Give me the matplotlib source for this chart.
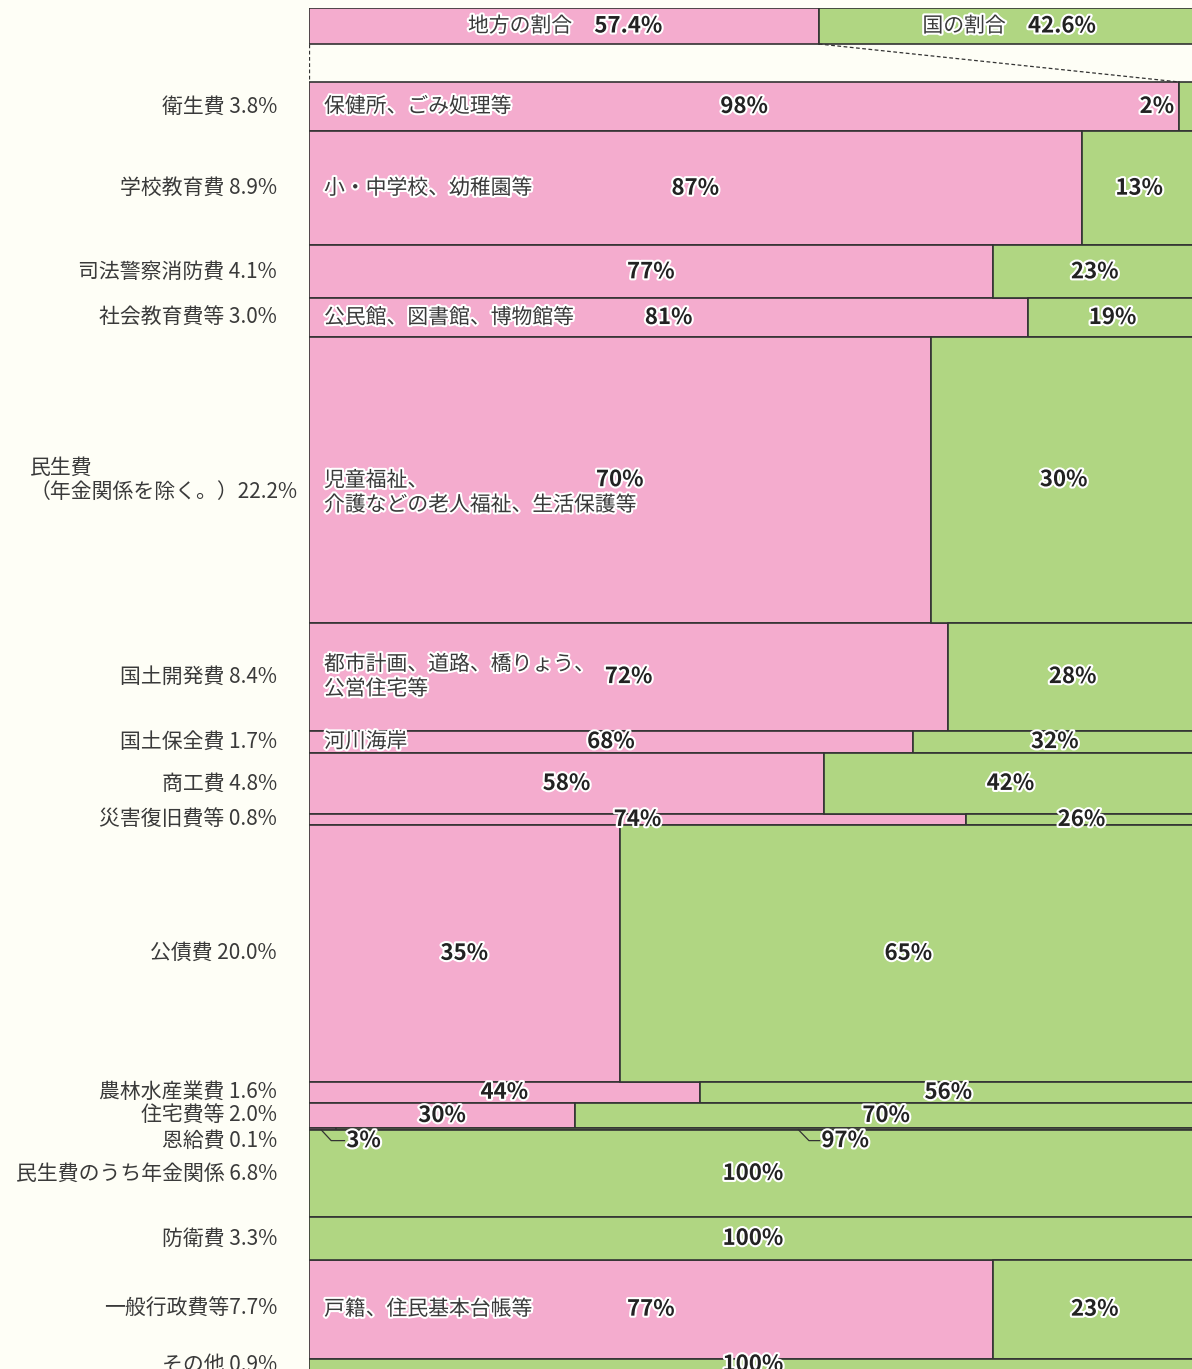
import numpy as np
import matplotlib
matplotlib.use('Agg')
import matplotlib.pyplot as plt
import matplotlib.patheffects as pe

plt.rcParams['font.family'] = ['Noto Sans CJK JP', 'DejaVu Sans']

# header: overall split local / national
header_labels = ['地方の割合', '国の割合']
header_values = [57.4, 42.6]

# rows (top to bottom)
row_labels = ['衛生費 3.8%', '学校教育費 8.9%', '司法警察消防費 4.1%', '社会教育費等 3.0%',
              '民生費\n（年金関係を除く。）22.2%', '国土開発費 8.4%', '国土保全費 1.7%', '商工費 4.8%',
              '災害復旧費等 0.8%', '公債費 20.0%', '農林水産業費 1.6%', '住宅費等 2.0%', '恩給費 0.1%',
              '民生費のうち年金関係 6.8%', '防衛費 3.3%', '一般行政費等7.7%', 'その他 0.9%']
shares = [3.8, 8.9, 4.1, 3.0, 22.2, 8.4, 1.7, 4.8, 0.8, 20.0, 1.6, 2.0, 0.1, 6.8, 3.3, 7.7, 0.9]
local_pct = [98, 87, 77, 81, 70, 72, 68, 58, 74, 35, 44, 30, 3, 0, 0, 77, 0]
national_pct = [100 - v for v in local_pct]
notes = ['保健所、ごみ処理等', '小・中学校、幼稚園等', '', '公民館、図書館、博物館等',
         '児童福祉、\n介護などの老人福祉、生活保護等', '都市計画、道路、橋りょう、\n公営住宅等',
         '河川海岸', '', '', '', '', '', '', '', '', '戸籍、住民基本台帳等', '']

PINK = '#f4acce'
GREEN = '#b0d682'
EDGE = '#333333'
BG = '#fefef6'
TXT = '#3a3a3a'
PY = 12.87  # pixels per percent (vertical)

fig = plt.figure(figsize=(11.92, 13.69), dpi=100, facecolor=BG)
# axes spans from x=309px to 1197px (right edge clipped), y from 8px downwards
top_pad = (82 - 8) / PY
ax_h = (100.1 + top_pad) * PY
ax = fig.add_axes([309 / 1192, (1369 - 8 - ax_h) / 1369, 888 / 1192, ax_h / 1369])
ax.set_xlim(0, 100)
ax.set_ylim(100.1, -top_pad)
ax.axis('off')

stroke = [pe.withStroke(linewidth=3, foreground='white')]

# header bar
hy0, hy1 = -top_pad, -(82 - 44) / PY
ax.barh(hy0, header_values[0], height=hy1 - hy0, left=0, align='edge',
        color=PINK, edgecolor=EDGE, linewidth=1.2)
ax.barh(hy0, header_values[1], height=hy1 - hy0, left=header_values[0], align='edge',
        color=GREEN, edgecolor=EDGE, linewidth=1.2)
hx = [header_values[0] / 2, header_values[0] + header_values[1] / 2]
for i in range(2):
    lab_w = len(header_labels[i]) * 20.8
    val_w = 65
    block = lab_w + 22 + val_w
    ax.annotate(header_labels[i], (hx[i], (hy0 + hy1) / 2), xytext=(-block / 2 + lab_w, 0),
                textcoords='offset pixels', ha='right', va='center', fontsize=15,
                color=TXT, path_effects=stroke)
    ax.annotate(f'{header_values[i]:.1f}%', (hx[i], (hy0 + hy1) / 2),
                xytext=(-block / 2 + lab_w + 22, 0), textcoords='offset pixels',
                ha='left', va='center', fontsize=16, fontweight='bold',
                color='#222222', path_effects=stroke)

# dashed connectors
ax.plot([0, 0], [hy1, 0], ls=(0, (3, 2)), color=EDGE, lw=0.9)
ax.plot([header_values[0], local_pct[0]], [hy1, 0], ls=(0, (3, 2)), color=EDGE, lw=0.9)

# rows
tops = np.concatenate([[0], np.cumsum(shares)[:-1]])
ax.barh(tops, local_pct, height=shares, left=0, align='edge',
        color=PINK, edgecolor=EDGE, linewidth=1.2)
ax.barh(tops, national_pct, height=shares, left=local_pct, align='edge',
        color=GREEN, edgecolor=EDGE, linewidth=1.2)

label_dy = {12: 12}
note_dy = {4: 13}

for i in range(len(shares)):
    yc = tops[i] + shares[i] / 2
    # category label on the left
    ax.annotate(row_labels[i], (0, yc), xytext=(-32 if '\n' not in row_labels[i] else -11,
                -label_dy.get(i, 0)), textcoords='offset pixels', ha='right', va='center',
                fontsize=15, color=TXT, multialignment='left', linespacing=1.15,
                annotation_clip=False)
    if notes[i]:
        ax.annotate(notes[i], (0, yc), xytext=(15, -note_dy.get(i, 0)), textcoords='offset pixels',
                    ha='left', va='center', fontsize=15, color=TXT, linespacing=1.15,
                    path_effects=stroke)
    lp, npct = local_pct[i], national_pct[i]
    if i == 12:
        # tiny row: labels below with leader lines
        yb = tops[i] + shares[i]
        ylab = yb + 11 / PY
        for x0, x1, x2, v in [(1.35, 2.5, 4.0, lp), (55.1, 56.3, 57.5, npct)]:
            ax.plot([x0, x1, x2], [yb, ylab, ylab], color=EDGE, lw=0.9)
            ax.text(x2 + 0.2, ylab, f'{v}%', ha='left', va='center', fontsize=16,
                    fontweight='bold', color='#222222', path_effects=stroke)
        continue
    if lp > 0:
        ax.text(lp / 2, yc, f'{lp}%', ha='center', va='center', fontsize=16,
                fontweight='bold', color='#222222', path_effects=stroke)
    if npct > 0:
        if npct < 5:
            ax.annotate(f'{npct}%', (lp, yc), xytext=(-5, 0), textcoords='offset pixels',
                        ha='right', va='center', fontsize=16, fontweight='bold',
                        color='#222222', path_effects=stroke)
        else:
            ax.text(lp + npct / 2, yc, f'{npct}%', ha='center', va='center', fontsize=16,
                    fontweight='bold', color='#222222', path_effects=stroke)

fig.savefig('out.png', dpi=100, facecolor=BG)
